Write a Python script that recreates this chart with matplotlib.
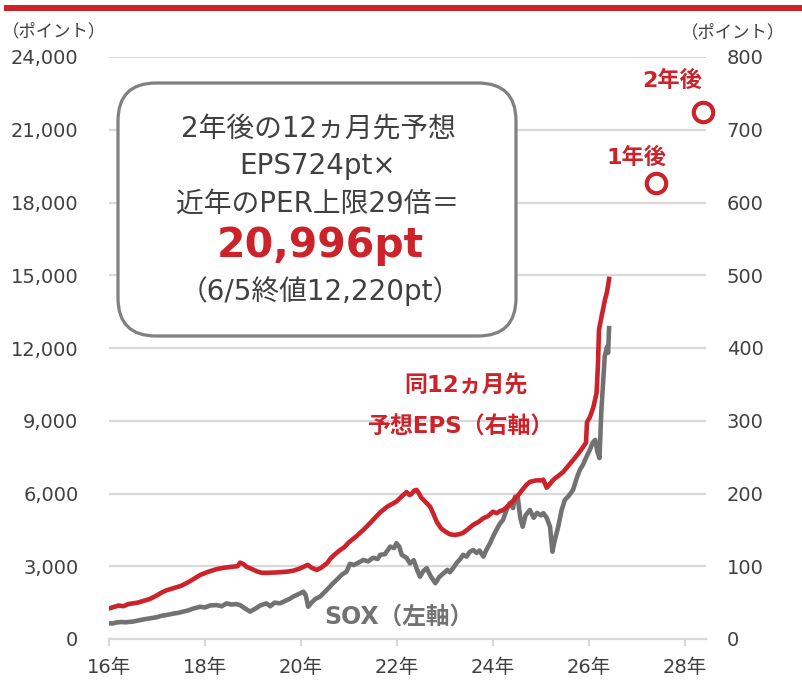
import matplotlib
matplotlib.use('Agg')
import matplotlib.pyplot as plt
from matplotlib.patches import FancyBboxPatch, Rectangle
from matplotlib.ticker import FuncFormatter

plt.rcParams['font.family'] = ['DejaVu Sans', 'Noto Sans CJK JP']

RED = '#cc2229'
GRAY = '#727272'
GRID = '#d9d9d9'
TXT = '#404040'

# ---- data -----------------------------------------------------------------
eps_year = [2016.00, 2016.10, 2016.20, 2016.30, 2016.40, 2016.50, 2016.60, 2016.70,
            2016.85, 2017.00, 2017.10, 2017.20, 2017.35, 2017.50, 2017.65, 2017.80,
            2017.90, 2018.05, 2018.24, 2018.40, 2018.59, 2018.68, 2018.73, 2018.80,
            2018.87, 2018.95, 2019.08, 2019.18, 2019.30, 2019.50, 2019.70, 2019.85,
            2019.98, 2020.08, 2020.14, 2020.22, 2020.33, 2020.42, 2020.54, 2020.62,
            2020.70, 2020.81, 2020.90, 2021.00, 2021.15, 2021.30, 2021.45, 2021.55,
            2021.65, 2021.80, 2021.99, 2022.10, 2022.20, 2022.26, 2022.30, 2022.36,
            2022.41, 2022.46, 2022.51, 2022.60, 2022.69, 2022.76, 2022.83, 2022.92,
            2023.00, 2023.10, 2023.20, 2023.30, 2023.38, 2023.48, 2023.59, 2023.70,
            2023.80, 2023.90, 2024.00, 2024.08, 2024.15, 2024.21, 2024.30, 2024.42,
            2024.52, 2024.60, 2024.70, 2024.77, 2024.90, 2025.00, 2025.05, 2025.12,
            2025.20, 2025.26, 2025.36, 2025.47, 2025.57, 2025.67, 2025.78, 2025.88,
            2025.94, 2025.96, 2026.02, 2026.09, 2026.16, 2026.19, 2026.21, 2026.26,
            2026.30, 2026.34, 2026.37, 2026.40, 2026.42]
eps_val = [42, 44, 46, 45, 48, 49, 50, 52,
           55, 60, 64, 67, 70, 73, 78, 84,
           88, 92, 96, 98, 99.5, 100, 105, 103,
           99, 97, 93, 91, 91, 91.5, 92.5, 94,
           97, 100, 102, 98, 95, 98, 104, 111,
           116, 122, 126, 133, 141, 150, 160, 167,
           174, 182, 189, 196, 202, 198, 199, 204,
           205, 200, 194, 188, 182, 172, 161, 152,
           148, 144, 143, 144, 146, 151, 157, 161,
           166, 169, 175, 173, 176, 177, 182, 190,
           197, 204, 212, 216, 218, 218, 219, 208,
           214, 219, 224, 230, 238, 246, 255, 264,
           270, 298, 305, 318, 338, 380, 425, 442,
           455, 468, 475, 486, 495]

sox_year = [2016.00, 2016.08, 2016.15, 2016.25, 2016.35, 2016.50, 2016.62, 2016.75,
            2016.85, 2017.00, 2017.10, 2017.20, 2017.35, 2017.45, 2017.55, 2017.65,
            2017.75, 2017.90, 2018.00, 2018.10, 2018.24, 2018.35, 2018.45, 2018.55,
            2018.65, 2018.73, 2018.82, 2018.94, 2019.05, 2019.15, 2019.28, 2019.36,
            2019.45, 2019.56, 2019.66, 2019.76, 2019.84, 2019.95, 2020.05, 2020.10,
            2020.15, 2020.22, 2020.30, 2020.40, 2020.50, 2020.60, 2020.67, 2020.75,
            2020.85, 2020.95, 2021.02, 2021.10, 2021.20, 2021.30, 2021.40, 2021.50,
            2021.60, 2021.65, 2021.75, 2021.86, 2021.94, 2021.99, 2022.05, 2022.10,
            2022.20, 2022.27, 2022.35, 2022.42, 2022.48, 2022.55, 2022.62, 2022.70,
            2022.80, 2022.88, 2022.97, 2023.05, 2023.10, 2023.17, 2023.25, 2023.32,
            2023.38, 2023.45, 2023.52, 2023.59, 2023.66, 2023.72, 2023.80, 2023.87,
            2023.94, 2024.02, 2024.10, 2024.15, 2024.21, 2024.28, 2024.35, 2024.42,
            2024.46, 2024.52, 2024.57, 2024.62, 2024.68, 2024.77, 2024.85, 2024.92,
            2025.00, 2025.05, 2025.12, 2025.19, 2025.24, 2025.28, 2025.36, 2025.43,
            2025.50, 2025.58, 2025.67, 2025.74, 2025.81, 2025.88, 2025.95, 2026.02,
            2026.08, 2026.13, 2026.18, 2026.22, 2026.26, 2026.30, 2026.33, 2026.38,
            2026.40, 2026.42]
sox_val = [650, 640, 680, 700, 690, 720, 770, 820,
           850, 900, 960, 990, 1050, 1080, 1130, 1180,
           1250, 1330, 1300, 1380, 1400, 1350, 1470, 1420,
           1440, 1400, 1280, 1130, 1250, 1380, 1470, 1350,
           1500, 1470, 1560, 1650, 1750, 1850, 1950, 1800,
           1330, 1500, 1650, 1750, 1950, 2150, 2300, 2450,
           2650, 2780, 3100, 3050, 3150, 3260, 3200, 3350,
           3300, 3470, 3500, 3810, 3750, 3950, 3800, 3470,
           3350, 3120, 3250, 2850, 2570, 2800, 2920, 2600,
           2300, 2550, 2710, 2850, 2750, 2920, 3150, 3300,
           3470, 3400, 3600, 3670, 3550, 3650, 3400, 3700,
           3950, 4300, 4600, 4770, 4910, 5300, 5600, 5400,
           5870, 5800, 5000, 4630, 5100, 5320, 5000, 5200,
           5100, 5190, 5000, 4630, 3600, 4000, 4630, 5300,
           5740, 5900, 6150, 6600, 6970, 7200, 7520, 7800,
           8100, 8210, 7700, 7460, 9450, 10700, 11650, 12060,
           11800, 12820]

fcst_year = [2027.40, 2028.375]
fcst_eps = [627, 724]
fcst_label = ['1年後', '2年後']

left_ticks = list(range(0, 24001, 3000))
right_ticks = list(range(0, 801, 100))
x_ticks = [2016, 2018, 2020, 2022, 2024, 2026, 2028]
x_ticklabels = ['16年', '18年', '20年', '22年', '24年', '26年', '28年']

box_lines = ['2年後の12ヵ月先予想', 'EPS724pt×', '近年のPER上限29倍＝']
box_result = '20,996pt'
box_note = '（6/5終値12,220pt）'

# ---- figure ----------------------------------------------------------------
W, H = 803, 687
fig = plt.figure(figsize=(W / 100, H / 100), dpi=100)
ax = fig.add_axes([109 / W, 48 / H, 597 / W, 582 / H])
ax2 = ax.twinx()

ax.set_xlim(2016, 2028.44)
ax.set_ylim(0, 24000)
ax2.set_ylim(0, 800)

ax.set_yticks(left_ticks)
ax.yaxis.set_major_formatter(FuncFormatter(lambda v, p: f'{int(v):,}'))
ax2.set_yticks(right_ticks)
ax.set_xticks(x_ticks)
ax.set_xticklabels(x_ticklabels)

ax.grid(axis='y', color=GRID, lw=1.6)
ax.set_axisbelow(True)
for a in (ax, ax2):
    for s in a.spines.values():
        s.set_visible(False)
ax.spines['bottom'].set_visible(True)
ax.spines['bottom'].set_color(GRID)
ax.spines['bottom'].set_linewidth(1.6)

ax.tick_params(axis='y', length=0, pad=22, labelsize=14, labelcolor=TXT)
ax2.tick_params(axis='y', length=0, pad=15, labelsize=14, labelcolor=TXT)
ax.tick_params(axis='x', length=5, width=1.6, color=GRID, pad=9, labelsize=14, labelcolor=TXT)

ax.plot(sox_year, sox_val, color=GRAY, lw=3.3, solid_joinstyle='round')
ax2.plot(eps_year, eps_val, color=RED, lw=3.3, solid_joinstyle='round')
ax2.plot(fcst_year, fcst_eps, ls='none', marker='o', ms=14, mew=3,
         mec=RED, mfc='white', clip_on=False)

# ---- overlay in pixel coordinates for annotations --------------------------
ov = fig.add_axes([0, 0, 1, 1], facecolor='none')
ov.set_xlim(0, W)
ov.set_ylim(H, 0)
ov.axis('off')

ov.add_patch(Rectangle((4, 5), W - 4, 6, color=RED, lw=0))

ov.text(54, 31, '（ポイント）', fontsize=12.5, color=TXT, ha='center', va='center')
ov.text(733, 32, '（ポイント）', fontsize=12.5, color=TXT, ha='center', va='center')

box = FancyBboxPatch((118, 83), 398, 253, boxstyle='round,pad=0,rounding_size=38',
                     fc='white', ec='#808080', lw=2.3)
ov.add_patch(box)
for i, line in enumerate(box_lines):
    ov.text(318, 129 + i * 37.5, line, fontsize=20, color=TXT, ha='center', va='center')
ov.text(320, 246, box_result, fontsize=29.5, fontweight='bold', color=RED,
        ha='center', va='center')
ov.text(320, 291, box_note, fontsize=20, color=TXT, ha='center', va='center')

ov.text(672, 80, fcst_label[1], fontsize=16, fontweight='bold', color=RED,
        ha='center', va='center')
ov.text(637, 157, fcst_label[0], fontsize=16, fontweight='bold', color=RED,
        ha='center', va='center')

ov.text(466, 386, '同12ヵ月先', fontsize=16.5, fontweight='bold', color=RED,
        ha='center', va='center')
ov.text(461, 427, '予想EPS（右軸）', fontsize=16.5, fontweight='bold', color=RED,
        ha='center', va='center')
ov.text(399, 617, 'SOX（左軸）', fontsize=17, fontweight='bold', color=GRAY,
        ha='center', va='center')

fig.savefig('out.png', dpi=100)
